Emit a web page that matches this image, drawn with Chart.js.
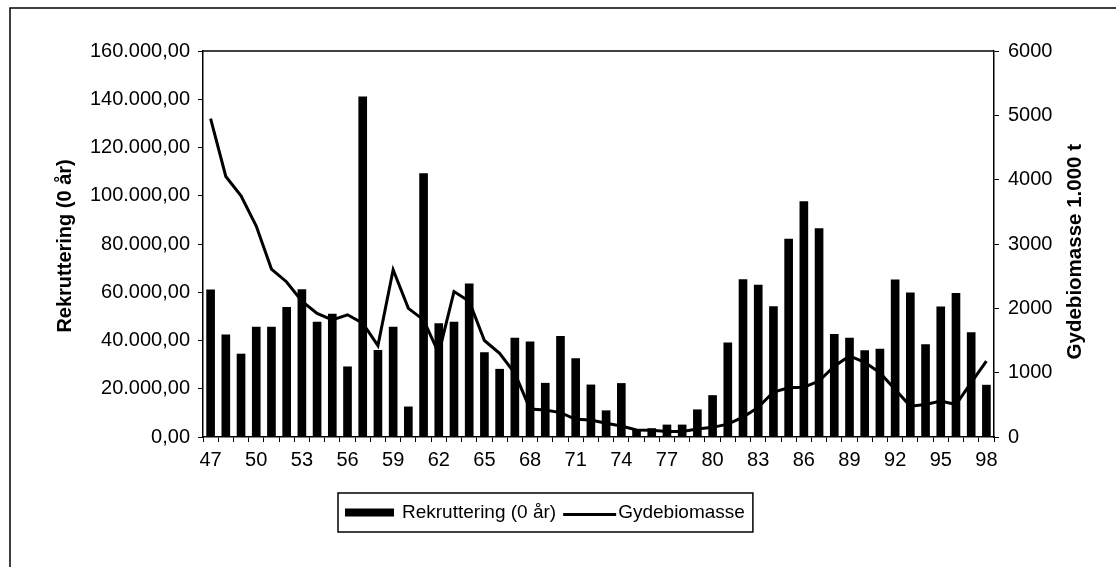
<!DOCTYPE html>
<html lang="da">
<head>
<meta charset="UTF-8" />
<title>Rekruttering og gydebiomasse</title>
<script src="https://cdn.jsdelivr.net/npm/chart.js"></script>
<style>
    body { margin: 0; background: #fff; }
    #wrap { width: 1116px; height: 567px; }
</style>
</head>
<body>
<div id="wrap"><canvas id="chart" width="1116" height="567"></canvas></div>
<script>
const years = ['47','48','49','50','51','52','53','54','55','56','57','58','59','60','61','62','63','64','65','66',
    '67','68','69','70','71','72','73','74','75','76','77','78','79','80','81','82','83','84','85','86',
    '87','88','89','90','91','92','93','94','95','96','97','98']

// Rekruttering (0 år), left axis
const rekruttering = [61000,42400,34400,45600,45600,53700,61100,47600,51000,29100,
    141000,35900,45600,12500,109200,47000,47600,63500,35000,28100,
    41000,39500,22300,41700,32500,21600,10900,22200,3000,3500,
    5000,5000,11300,17200,39000,65300,63000,54100,82000,97600,
    86400,42600,41000,35800,36400,65200,59800,38300,54000,59600,
    43300,21500]

// Gydebiomasse 1.000 t, right axis
const gydebiomasse = [4950,4050,3750,3280,2610,2410,2110,1920,1820,1900,
    1770,1420,2600,2000,1820,1300,2260,2110,1500,1300,
    990,436,420,379,275,265,215,170,110,105,
    85,85,125,150,200,310,460,700,765,775,
    870,1100,1260,1160,1000,740,480,505,558,505,
    844,1181]

const leftTicks = [0,20000,40000,60000,80000,100000,120000,140000,160000]
const rightTicks = [0,1000,2000,3000,4000,5000,6000]

const FONT = 'Arial, "Liberation Sans", sans-serif'

function danish(v) {
    const s = Math.round(v).toString().replace(/\B(?=(\d{3})+(?!\d))/g, '.')
    return s + ',00'
}

const decor = {
    id: 'decor',
    beforeDraw(chart) {
        const { ctx } = chart
        ctx.save()
        ctx.strokeStyle = '#000'
        ctx.lineWidth = 1.5
        ctx.beginPath()
        ctx.moveTo(10, chart.height)
        ctx.lineTo(10, 8)
        ctx.lineTo(chart.width, 8)
        ctx.stroke()
        ctx.restore()
    },
    afterDraw(chart) {
        const { ctx, chartArea: a } = chart
        ctx.save()
        // top edge of plot area
        ctx.strokeStyle = '#000'
        ctx.lineWidth = 1.5
        ctx.beginPath()
        ctx.moveTo(a.left, a.top)
        ctx.lineTo(a.right, a.top)
        ctx.stroke()

        // axis titles, both reading bottom to top
        ctx.fillStyle = '#000'
        ctx.textAlign = 'center'
        ctx.textBaseline = 'middle'
        ctx.font = 'bold 20px ' + FONT
        ctx.save()
        ctx.translate(65, a.top + (a.bottom - a.top) * 0.505)
        ctx.rotate(-Math.PI / 2)
        ctx.fillText('Rekruttering (0 år)', 0, 0)
        ctx.restore()
        ctx.font = 'bold 20.5px ' + FONT
        ctx.save()
        ctx.translate(a.right + 81, a.top + (a.bottom - a.top) * 0.52)
        ctx.rotate(-Math.PI / 2)
        ctx.fillText('Gydebiomasse 1.000 t', 0, 0)
        ctx.restore()

        // legend box
        ctx.font = '19px ' + FONT
        ctx.textAlign = 'left'
        const t1 = 'Rekruttering (0 år)'
        const t2 = 'Gydebiomasse'
        const w1 = ctx.measureText(t1).width
        const w2 = ctx.measureText(t2).width
        const boxW = 7 + 49 + 8 + w1 + 7 + 53 + 2 + w2 + 8
        const boxH = 39
        const bx = Math.round(545.5 - boxW / 2)
        const by = a.bottom + 56
        const cy = by + boxH / 2
        ctx.lineWidth = 1.5
        ctx.strokeRect(bx, by, boxW, boxH)
        let x = bx + 7
        ctx.fillRect(x, cy - 4, 49, 8)
        x += 49 + 8
        ctx.fillText(t1, x, cy)
        x += w1 + 7
        ctx.lineWidth = 3
        ctx.beginPath()
        ctx.moveTo(x, cy + 2)
        ctx.lineTo(x + 53, cy + 2)
        ctx.stroke()
        x += 53 + 2
        ctx.fillText(t2, x, cy)
        ctx.restore()
    },
}

const config = {
    data: {
        labels: years,
        datasets: [
            {
                type: 'line',
                label: 'Gydebiomasse',
                data: gydebiomasse,
                yAxisID: 'y1',
                borderColor: '#000',
                borderWidth: 3,
                pointRadius: 0,
                tension: 0,
                order: 0,
            },
            {
                type: 'bar',
                label: 'Rekruttering (0 år)',
                data: rekruttering,
                yAxisID: 'y',
                backgroundColor: '#000',
                barThickness: 8,
                order: 1,
            },
        ],
    },
    options: {
        responsive: false,
        animation: false,
        layout: { padding: { top: 51, left: 0, right: 0, bottom: 90 } },
        plugins: {
            legend: { display: false },
            tooltip: { enabled: false },
        },
        scales: {
            x: {
                grid: { drawOnChartArea: false, tickLength: 5, color: '#000', offset: true },
                border: { color: '#000', width: 1.5 },
                ticks: {
                    color: '#000',
                    font: { family: FONT, size: 20 },
                    padding: 6,
                    maxRotation: 0,
                    autoSkip: false,
                    callback(v, i) { return i % 3 === 0 ? years[i] : '' },
                },
                afterFit(s) { s.height = 40 },
            },
            y: {
                position: 'left',
                min: 0,
                max: 160000,
                afterBuildTicks(s) { s.ticks = leftTicks.map(v => ({ value: v })) },
                grid: { drawOnChartArea: false, tickLength: 5, color: '#000' },
                border: { color: '#000', width: 1.5 },
                ticks: {
                    color: '#000',
                    font: { family: FONT, size: 20 },
                    padding: 8,
                    callback: v => danish(v),
                },
                afterFit(s) { s.width = 203 },
            },
            y1: {
                position: 'right',
                min: 0,
                max: 6000,
                afterBuildTicks(s) { s.ticks = rightTicks.map(v => ({ value: v })) },
                grid: { drawOnChartArea: false, tickLength: 5, color: '#000' },
                border: { color: '#000', width: 1.5 },
                ticks: {
                    color: '#000',
                    font: { family: FONT, size: 20 },
                    padding: 9,
                    callback: v => String(v),
                },
                afterFit(s) { s.width = 122 },
            },
        },
    },
    plugins: [decor],
}

new Chart(document.getElementById('chart'), config)
</script>
</body>
</html>
